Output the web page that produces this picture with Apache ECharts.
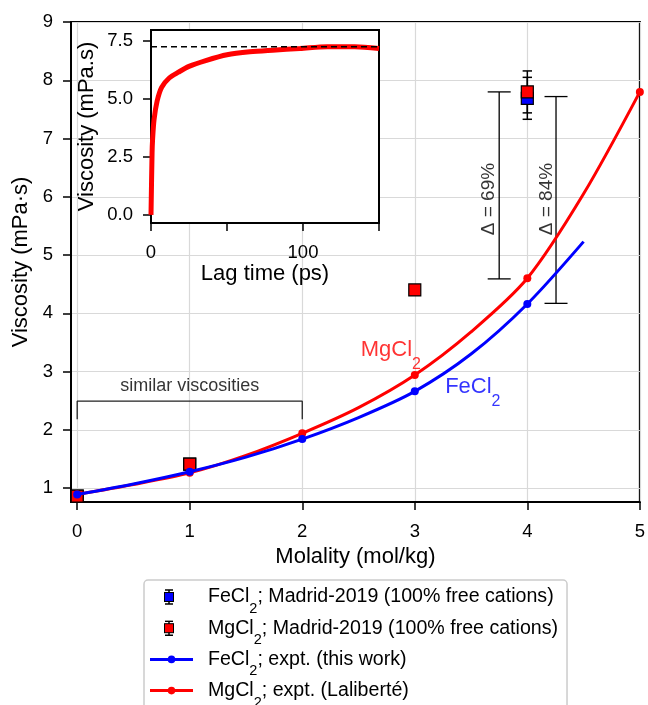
<!DOCTYPE html>
<html>
<head>
<meta charset="utf-8">
<script src="https://cdn.jsdelivr.net/npm/echarts@6/dist/echarts.min.js"></script>
<style>
html, body { margin: 0; padding: 0; background: #fff; }
#chart { width: 648px; height: 705px; }
</style>
</head>
<body>
<div id="chart"></div>
<script>
// Madrid-2019 simulations (100% free cations)
const madridFeX = [0, 1, 4];
const madridFeY = [0.86, 1.41, 7.69];
const madridFeErr = [0, 0, 0.36];
const madridMgX = [0, 1, 3, 4];
const madridMgY = [0.86, 1.41, 4.40, 7.80];
const madridMgErr = [0, 0, 0, 0.36];

const feCurveX = [0, 0.5, 1, 1.5, 2, 2.5, 3, 3.5, 4, 4.5];
const feCurveY = [0.89, 1.07, 1.28, 1.53, 1.84, 2.21, 2.66, 3.30, 4.16, 5.23];
const mgCurveX = [0, 0.5, 1, 1.5, 2, 2.5, 3, 3.5, 4, 4.5, 5];
const mgCurveY = [0.89, 1.06, 1.26, 1.56, 1.94, 2.38, 2.94, 3.68, 4.60, 6.05, 7.80];
const feDotX = [0, 1, 2, 3, 4];
const feDotY = [0.89, 1.28, 1.84, 2.66, 4.16];
const mgDotX = [0, 1, 2, 3, 4, 5];
const mgDotY = [0.89, 1.26, 1.94, 2.94, 4.60, 7.80];

// inset: running viscosity vs lag time
const lagTime = [0, 0.7, 1, 2, 4, 7, 12, 18, 25, 36, 50, 65, 80, 98, 116, 134, 150];
const lagVisc = [0, 2.65, 3.2, 4.1, 4.9, 5.5, 5.9, 6.15, 6.4, 6.65, 6.9, 7.03, 7.1, 7.17, 7.25, 7.25, 7.17];
const lagPlateau = 7.25;

// annotations
const bracketX = [0, 0, 2, 2];
const bracketY = [2.18, 2.49, 2.49, 2.18];
const deltaX = [3.75, 4.255];
const deltaLow = [4.59, 4.17];
const deltaHigh = [7.80, 7.72];
const deltaLabel = ['Δ = 69%', 'Δ = 84%'];
const deltaLabelX = [3.66, 4.17];
const deltaLabelY = [5.96, 5.96];

// ticks
const xTicks = [0, 1, 2, 3, 4, 5];
const yTicks = [1, 2, 3, 4, 5, 6, 7, 8, 9];
const insetXTicks = [0, 50, 100, 150];
const insetXLabels = [0, 100];
const insetYTicks = [0, 2.5, 5, 7.5];

const names = [
    'FeCl2; Madrid-2019 (100% free cations)',
    'MgCl2; Madrid-2019 (100% free cations)',
    'FeCl2; expt. (this work)',
    'MgCl2; expt. (Laliberté)'
];

const FONT = "'Liberation Sans', Arial, sans-serif";
const BLUE = '#0000ff';
const RED = '#ff0000';

function zip(xs, ys) { return xs.map((x, i) => [x, ys[i]]); }

function richName(s, b, d) {
    const i = s.indexOf('Cl2');
    if (i < 0) return '{' + b + '|' + s + '}';
    let out = '{' + b + '|' + s.slice(0, i + 2) + '}{' + d + '|2}';
    if (s.length > i + 3) out += '{' + b + '|' + s.slice(i + 3) + '}';
    return out;
}

function svgIcon(body) {
    const svg = '<svg xmlns="http://www.w3.org/2000/svg" width="43" height="16" viewBox="0 0 43 16">' + body + '</svg>';
    return 'image://data:image/svg+xml;charset=utf-8,' + encodeURIComponent(svg);
}
function squareIcon(fill) {
    return svgIcon(
        '<line x1="19" y1="1" x2="19" y2="15" stroke="#000" stroke-width="1.5"/>' +
        '<line x1="15" y1="1" x2="23" y2="1" stroke="#000" stroke-width="1.5"/>' +
        '<line x1="15" y1="15" x2="23" y2="15" stroke="#000" stroke-width="1.5"/>' +
        '<rect x="14.5" y="3.5" width="9" height="9" fill="' + fill + '" stroke="#000" stroke-width="1"/>');
}
function lineIcon(c) {
    return svgIcon(
        '<line x1="0" y1="8" x2="43" y2="8" stroke="' + c + '" stroke-width="3"/>' +
        '<circle cx="21.5" cy="8" r="3.8" fill="' + c + '"/>');
}

// vertical bar with caps, cap half-width in px
function barRenderer(capHalf, width) {
    return function (params, api) {
        const x = api.value(0);
        const lo = api.coord([x, api.value(1)]);
        const hi = api.coord([x, api.value(2)]);
        const st = { stroke: '#000', lineWidth: width };
        return {
            type: 'group',
            children: [
                { type: 'line', shape: { x1: lo[0], y1: lo[1], x2: hi[0], y2: hi[1] }, style: st },
                { type: 'line', shape: { x1: lo[0] - capHalf, y1: lo[1], x2: lo[0] + capHalf, y2: lo[1] }, style: st },
                { type: 'line', shape: { x1: hi[0] - capHalf, y1: hi[1], x2: hi[0] + capHalf, y2: hi[1] }, style: st }
            ]
        };
    };
}

function errData(xs, ys, es) {
    return xs.map((x, i) => [x, ys[i] - es[i], ys[i] + es[i]]).filter((d, i) => es[i] > 0);
}

function textPoint(x, y, text, opts) {
    return {
        type: 'scatter', xAxisIndex: 0, yAxisIndex: 0, silent: true, z: 6,
        symbolSize: 0,
        data: [[x, y]],
        label: Object.assign({
            show: true, formatter: text, color: '#000', fontFamily: FONT
        }, opts)
    };
}

function subRich(color, size, subSize, pad) {
    return {
        n: { fontSize: size, color: color, fontFamily: FONT },
        s: { fontSize: subSize, color: color, fontFamily: FONT, padding: [pad, 0, 0, 0] }
    };
}

const chart = echarts.init(document.getElementById('chart'));

const axisBase = {
    axisLine: { show: true, onZero: false, lineStyle: { color: '#000', width: 2 } },
    axisTick: { show: true, length: 8, lineStyle: { color: '#000', width: 1.5 } },
    nameLocation: 'middle',
    nameTextStyle: { fontSize: 22, color: '#000', fontFamily: FONT }
};

chart.setOption({
    animation: false,
    backgroundColor: '#fff',
    textStyle: { fontFamily: FONT },
    grid: [
        { left: 71, right: 7, top: 22, bottom: 203, show: true, borderColor: '#000', borderWidth: 2, backgroundColor: '#fff' },
        { left: 151, right: 269, top: 30, bottom: 482, show: true, borderColor: '#000', borderWidth: 2, backgroundColor: '#fff', z: 3 }
    ],
    xAxis: [
        Object.assign({}, axisBase, {
            type: 'value', gridIndex: 0, min: -0.055, max: 5,
            name: 'Molality (mol/kg)', nameGap: 38,
            axisTick: Object.assign({}, axisBase.axisTick, { customValues: xTicks }),
            axisLabel: { color: '#000', fontSize: 18.5, margin: 20, customValues: xTicks },
            splitLine: { show: true, lineStyle: { color: '#d9d9d9', width: 1.2 } }
        }),
        Object.assign({}, axisBase, {
            type: 'value', gridIndex: 1, min: 0, max: 150, z: 4,
            name: 'Lag time (ps)', nameGap: 38,
            axisTick: Object.assign({}, axisBase.axisTick, { customValues: insetXTicks }),
            axisLabel: { color: '#000', fontSize: 18.5, margin: 20, customValues: insetXLabels },
            splitLine: { show: false }
        })
    ],
    yAxis: [
        Object.assign({}, axisBase, {
            type: 'value', gridIndex: 0, min: 0.76, max: 9,
            name: 'Viscosity (mPa·s)', nameGap: 37,
            axisTick: Object.assign({}, axisBase.axisTick, { customValues: yTicks }),
            axisLabel: { color: '#000', fontSize: 18.5, margin: 18, customValues: yTicks },
            splitLine: { show: true, lineStyle: { color: '#d9d9d9', width: 1.2 } }
        }),
        Object.assign({}, axisBase, {
            type: 'value', gridIndex: 1, min: -0.35, max: 7.97, z: 4,
            name: 'Viscosity (mPa.s)', nameGap: 53,
            axisTick: Object.assign({}, axisBase.axisTick, { customValues: insetYTicks }),
            axisLabel: { color: '#000', fontSize: 18.5, margin: 18, customValues: insetYTicks, formatter: v => v.toFixed(1) },
            splitLine: { show: false }
        })
    ],
    legend: {
        orient: 'vertical', left: 144, top: 580, height: 200,
        itemWidth: 43, itemHeight: 16, itemGap: 1.7,
        padding: [7, 9, 6, 6],
        backgroundColor: '#fff', borderColor: '#cccccc', borderWidth: 1.5, borderRadius: 4,
        selectedMode: false,
        data: [
            { name: names[0], icon: squareIcon(BLUE) },
            { name: names[1], icon: squareIcon(RED) },
            { name: names[2], icon: lineIcon(BLUE) },
            { name: names[3], icon: lineIcon(RED) }
        ],
        formatter: name => richName(name, 'n', 's'),
        textStyle: {
            padding: [0, 0, 0, 10],
            rich: subRich('#000', 19.6, 14.5, 24)
        }
    },
    series: [
        {
            type: 'custom', name: 'feErr', z: 2, silent: true,
            renderItem: barRenderer(4.7, 1.5),
            encode: { x: 0, y: [1, 2] },
            data: errData(madridFeX, madridFeY, madridFeErr)
        },
        {
            type: 'custom', name: 'mgErr', z: 2, silent: true,
            renderItem: barRenderer(4.7, 1.5),
            encode: { x: 0, y: [1, 2] },
            data: errData(madridMgX, madridMgY, madridMgErr)
        },
        {
            type: 'scatter', name: names[0], z: 3, symbol: 'rect', symbolSize: 12,
            itemStyle: { color: BLUE, borderColor: '#000', borderWidth: 1.2, opacity: 1 },
            data: zip(madridFeX, madridFeY)
        },
        {
            type: 'scatter', name: names[1], z: 3, symbol: 'rect', symbolSize: 12,
            itemStyle: { color: RED, borderColor: '#000', borderWidth: 1.2, opacity: 1 },
            data: zip(madridMgX, madridMgY)
        },
        {
            type: 'line', name: names[3], z: 4, showSymbol: false, smooth: 0.3,
            lineStyle: { color: RED, width: 3 }, itemStyle: { color: RED },
            data: zip(mgCurveX, mgCurveY)
        },
        {
            type: 'scatter', name: names[3], z: 4, symbolSize: 8,
            itemStyle: { color: RED, opacity: 1 },
            data: zip(mgDotX, mgDotY)
        },
        {
            type: 'line', name: names[2], z: 5, showSymbol: false, smooth: 0.3,
            lineStyle: { color: BLUE, width: 3 }, itemStyle: { color: BLUE },
            data: zip(feCurveX, feCurveY)
        },
        {
            type: 'scatter', name: names[2], z: 5, symbolSize: 8,
            itemStyle: { color: BLUE, opacity: 1 },
            data: zip(feDotX, feDotY)
        },
        {
            type: 'line', name: 'bracket', z: 2, silent: true, showSymbol: false,
            lineStyle: { color: '#222', width: 1.3 },
            data: zip(bracketX, bracketY)
        },
        {
            type: 'custom', name: 'delta', z: 2, silent: true,
            renderItem: barRenderer(11.5, 1.3),
            encode: { x: 0, y: [1, 2] },
            data: deltaX.map((x, i) => [x, deltaLow[i], deltaHigh[i]])
        },
        textPoint(2.52, 3.37, richName('MgCl2', 'n', 's'), {
            position: 'right', distance: 0, rich: subRich(RED, 22, 16, 29)
        }),
        textPoint(3.27, 2.73, richName('FeCl2', 'n', 's'), {
            position: 'right', distance: 0, rich: subRich(BLUE, 22, 16, 29)
        }),
        textPoint(1, 2.75, 'similar viscosities', { position: 'inside', fontSize: 18, color: '#000' }),
        textPoint(deltaLabelX[0], deltaLabelY[0], deltaLabel[0], { position: 'inside', fontSize: 19, rotate: 90 }),
        textPoint(deltaLabelX[1], deltaLabelY[1], deltaLabel[1], { position: 'inside', fontSize: 19, rotate: 90 }),
        {
            type: 'line', name: 'inset', xAxisIndex: 1, yAxisIndex: 1, z: 10, silent: true,
            showSymbol: false, smooth: 0.3,
            lineStyle: { color: RED, width: 5 },
            data: zip(lagTime, lagVisc)
        },
        {
            type: 'line', name: 'plateau', xAxisIndex: 1, yAxisIndex: 1, z: 11, silent: true,
            showSymbol: false,
            lineStyle: { color: '#000', width: 1.5, type: [6, 4] },
            data: [[insetXTicks[0], lagPlateau], [insetXTicks[insetXTicks.length - 1], lagPlateau]]
        }
    ]
});
</script>
</body>
</html>
